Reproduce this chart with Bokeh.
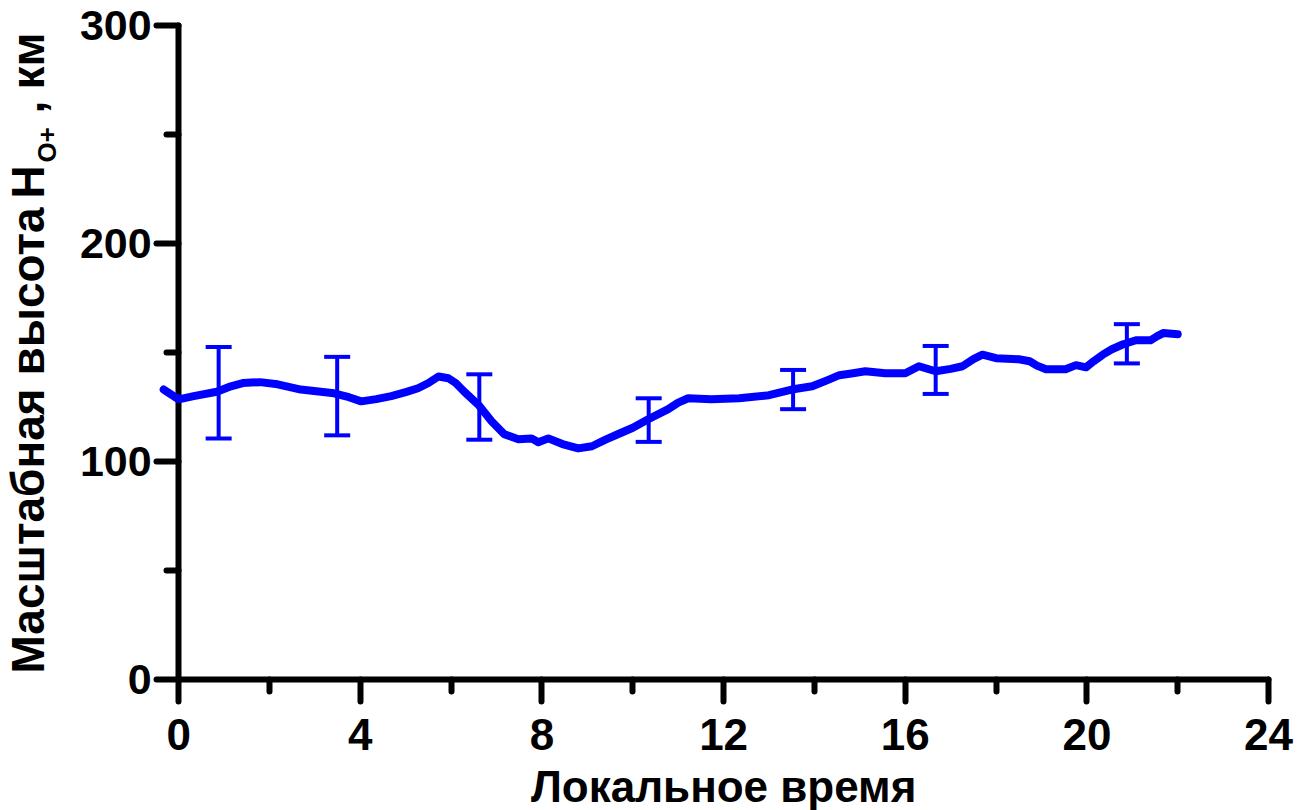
import numpy as np
from bokeh.plotting import figure
from bokeh.models import Range1d, FixedTicker, Whisker, TeeHead, ColumnDataSource, Label
from bokeh.embed import file_html
from bokeh.resources import INLINE

# Diurnal course of the O+ scale height
local_time = [-0.33, 0.0, 0.33, 0.84, 1.15, 1.41, 1.79, 2.18, 2.69, 3.42, 3.75, 4.02, 4.35,
              4.68, 5.0, 5.27, 5.5, 5.72, 5.94, 6.1, 6.29, 6.6, 6.89, 7.17, 7.48, 7.77,
              7.92, 8.14, 8.45, 8.8, 9.1, 9.4, 9.67, 10.0, 10.34, 10.78, 11.0, 11.22,
              11.73, 12.34, 13.0, 13.5, 13.95, 14.25, 14.55, 14.85, 15.12, 15.56, 16.0,
              16.3, 16.67, 17.0, 17.26, 17.5, 17.7, 18.0, 18.5, 18.74, 18.9, 19.1, 19.53,
              19.76, 19.98, 20.15, 20.35, 20.55, 20.8, 21.08, 21.4, 21.55, 21.68, 22.0]
scale_height = [133, 128.5, 130, 132, 134.5, 136, 136.4, 135.4, 133, 131.3, 129.5, 127.6,
                128.6, 130, 131.8, 133.6, 136, 139, 138.2, 136, 132, 126, 118.5, 112.5,
                110.2, 110.6, 108.8, 110.6, 108, 106, 107, 110, 112.5, 115.5, 119.4, 124,
                127, 129, 128.6, 129, 130.4, 133, 134.5, 137, 139.6, 140.5, 141.4, 140.5,
                140.5, 143.7, 141.4, 142.5, 143.7, 147, 149, 147.4, 146.9, 146, 144, 142.3,
                142.3, 144.2, 143.2, 146, 149, 151.5, 153.8, 155.6, 155.6, 157.5, 158.9, 158.4]

# Error bars: position, mean value and half-width
bar_time = [0.88, 3.49, 6.62, 10.35, 13.53, 16.67, 20.88]
bar_mean = [131.5, 130, 125, 119, 133, 142, 154]
bar_err = [21, 18, 15, 10, 9, 11, 9]

x_ticks = [0, 4, 8, 12, 16, 20, 24]
x_minor = [2, 6, 10, 14, 18, 22]
y_ticks = [0, 100, 200, 300]
y_minor = [50, 150, 250]

BLUE = "#0000ff"
FONT = "Liberation Sans"

# The frame fills the whole canvas; the axes sit at x=0 and y=0 inside it
p = figure(width=1309, height=810,
           x_range=Range1d(-3.924, 24.902), y_range=Range1d(-60.09, 311.47),
           output_backend="svg", toolbar_location=None,
           min_border_left=0, min_border_right=0, min_border_top=0, min_border_bottom=0)
p.outline_line_color = None
p.grid.visible = False

p.xaxis.ticker = FixedTicker(ticks=x_ticks, minor_ticks=x_minor)
p.yaxis.ticker = FixedTicker(ticks=y_ticks, minor_ticks=y_minor)
p.xaxis.fixed_location = 0
p.yaxis.fixed_location = 0
p.xaxis.bounds = (0, 24)
p.yaxis.bounds = (0, 300)

for ax in (p.xaxis, p.yaxis):
    ax.axis_line_width = 6
    ax.axis_line_color = "black"
    ax.axis_line_cap = "round"
    ax.major_tick_line_width = 6
    ax.minor_tick_line_width = 6
    ax.major_tick_line_color = "black"
    ax.minor_tick_line_color = "black"
    ax.major_tick_line_cap = "round"
    ax.minor_tick_line_cap = "round"
    ax.major_tick_in = 0
    ax.minor_tick_in = 0
    ax.major_tick_out = 22
    ax.minor_tick_out = 12
    ax.major_label_text_font = FONT
    ax.major_label_text_font_style = "bold"
    ax.major_label_text_color = "black"

p.xaxis.major_label_text_font_size = "44px"
p.yaxis.major_label_text_font_size = "43px"
p.xaxis.major_label_standoff = 17
p.yaxis.major_label_standoff = 5

# Error bars
upper = [m + e for m, e in zip(bar_mean, bar_err)]
lower = [m - e for m, e in zip(bar_mean, bar_err)]
src = ColumnDataSource(dict(base=bar_time, upper=upper, lower=lower))
whisker = Whisker(source=src, base="base", upper="upper", lower="lower", dimension="height",
                  line_color=BLUE, line_width=4,
                  upper_head=TeeHead(size=26, line_color=BLUE, line_width=4),
                  lower_head=TeeHead(size=26, line_color=BLUE, line_width=4))
p.add_layout(whisker)

p.line(local_time, scale_height, line_color=BLUE, line_width=8,
       line_cap="round", line_join="round", level="overlay")


def title(text, x, y, size, angle=0.0, align="left"):
    p.add_layout(Label(x=x, y=y, text=text, angle=angle, text_align=align,
                       text_baseline="alphabetic", text_font=FONT, text_font_style="bold",
                       text_font_size=size, text_color="black"))


# Rotated y-axis title with the O+ subscript
title("Масштабная высота", -3.31, 2.75, "46px", np.pi / 2)
title("H", -3.31, 220.6, "46px", np.pi / 2)
title("O+", -2.91, 237.2, "26px", np.pi / 2)
title(",", -3.31, 259.6, "46px", np.pi / 2)
title("км", -3.31, 270.6, "46px", np.pi / 2)

# x-axis title
title("Локальное время", 12.0, -49.1, "44px", 0.0, "center")

open("out.html", "w").write(file_html(p, INLINE))
